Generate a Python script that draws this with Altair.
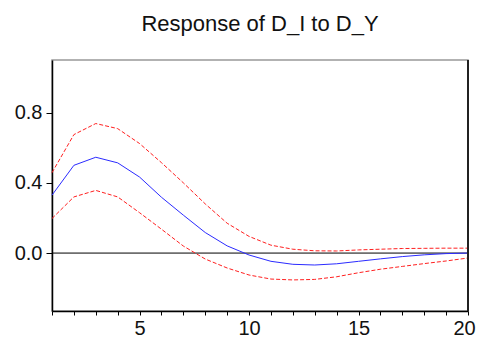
import altair as alt
import pandas as pd

periods = list(range(1, 21))
response = [0.33, 0.50, 0.546, 0.514, 0.433, 0.318, 0.216, 0.117, 0.041, -0.011,
            -0.047, -0.064, -0.068, -0.061, -0.047, -0.033, -0.02, -0.01, -0.003, 0.0]
upper = [0.458, 0.675, 0.738, 0.709, 0.624, 0.515, 0.40, 0.28, 0.17, 0.095,
         0.045, 0.022, 0.013, 0.012, 0.018, 0.022, 0.026, 0.027, 0.028, 0.028]
lower = [0.197, 0.32, 0.357, 0.32, 0.23, 0.136, 0.04, -0.034, -0.085, -0.125,
         -0.148, -0.153, -0.15, -0.135, -0.112, -0.092, -0.076, -0.06, -0.045, -0.028]

x_ticks = list(range(1, 21))
y_ticks = [0.0, 0.4, 0.8]
y_domain = [-0.33, 1.1]
x_domain = [1, 20]

df = pd.DataFrame({"period": periods, "response": response, "upper": upper, "lower": lower})

FONT = "Liberation Sans"

x_axis = alt.Axis(values=x_ticks, labelExpr="datum.value % 5 == 0 ? datum.label : ''",
                  title=None, grid=False, domainColor="black", tickColor="black",
                  tickSize=4, labelFontSize=20, labelFont=FONT, labelColor="#111",
                  labelPadding=3, labelFlush=False, labelOverlap=False,
                  labelOffset=alt.condition("datum.value == 20", alt.value(-4), alt.value(0)))
x_scale = alt.Scale(domain=x_domain, nice=False, zero=False)
x_enc = alt.X("period:Q", scale=x_scale, axis=x_axis)

y_axis = alt.Axis(values=y_ticks, format=".1f", title=None, grid=False,
                  domainColor="black", tickColor="black", tickSize=6,
                  labelFontSize=20, labelFont=FONT, labelColor="#111", labelPadding=4)
y_scale = alt.Scale(domain=y_domain, nice=False, zero=False)

def yenc(field):
    return alt.Y(f"{field}:Q", scale=y_scale, axis=y_axis)

base = alt.Chart(df)

mid = base.mark_line(color="#2b2bff", strokeWidth=1).encode(x=x_enc, y=yenc("response"))
up = base.mark_line(color="#ff2020", strokeWidth=1, strokeDash=[4, 2]).encode(x=x_enc, y=yenc("upper"))
lo = base.mark_line(color="#ff2020", strokeWidth=1, strokeDash=[4, 2]).encode(x=x_enc, y=yenc("lower"))
zero = base.mark_rule(color="black", strokeWidth=1).encode(
    x=alt.X("min(period):Q", scale=x_scale, axis=x_axis),
    x2=alt.X2("max(period):Q"),
    y=alt.YDatum(0.0, scale=y_scale, axis=y_axis))
right = base.mark_rule(color="#222222", strokeWidth=1.5).encode(
    x=alt.XDatum(x_domain[1], scale=x_scale, axis=x_axis),
    y=alt.YDatum(y_domain[0], scale=y_scale, axis=y_axis),
    y2=alt.datum(y_domain[1]))

chart = alt.layer(zero, up, lo, mid, right).properties(
    width=416, height=251,
    title=alt.TitleParams("Response of D_I to D_Y", fontSize=22, font=FONT, fontWeight="normal",
                          anchor="middle", offset=23, color="#111"),
    autosize=alt.AutoSizeParams(type="none"),
    padding={"left": 44, "top": 52, "right": 8, "bottom": 26},
).configure_view(stroke="#999999", strokeWidth=1.5).configure_axis(domainWidth=1.5).configure_axisX(labelOverlap=False)

chart.save("out.html", embed_options={"renderer": "svg", "actions": False})
